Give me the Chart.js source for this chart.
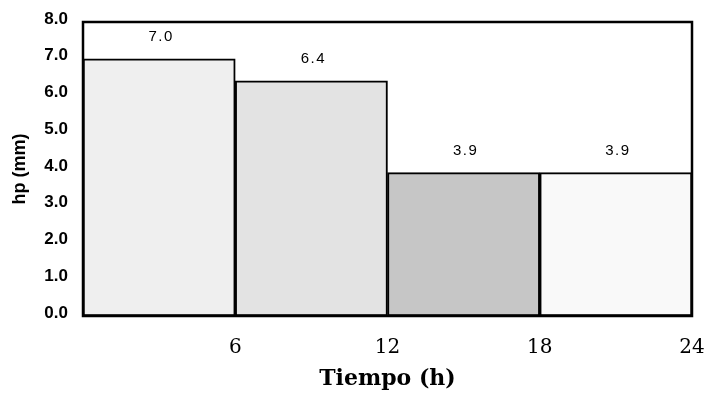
<!DOCTYPE html>
<html>
<head>
<meta charset="utf-8">
<script src="https://cdn.jsdelivr.net/npm/chart.js@4/dist/chart.umd.min.js"></script>
<style>
  html, body { margin: 0; padding: 0; background: #fff; }
  #wrap { width: 708px; height: 409px; }
</style>
</head>
<body>
<div id="wrap"><canvas id="myChart" width="708" height="409"></canvas></div>
<script>
// data
var hourMid = [3, 9, 15, 21];          // centre of each 6 h block
var hp = [7.0, 6.4, 3.9, 3.9];          // mm per block
var barFills = ["#efefef", "#e3e3e3", "#c6c6c6", "#f9f9f9"];
var xTicks = [6, 12, 18, 24];

// frame around the plot + numbers over the bars
var boxAndLabels = {
  id: 'boxAndLabels',
  afterDatasetsDraw: function(chart) {
    var ctx = chart.ctx;
    var a = chart.chartArea;
    ctx.save();
    ctx.strokeStyle = '#000';
    ctx.lineWidth = 2.5;
    ctx.strokeRect(a.left, a.top, a.right - a.left, a.bottom - a.top);

    ctx.fillStyle = '#000';
    ctx.font = '15px "Liberation Sans", Arial, sans-serif';
    ctx.letterSpacing = '1.5px';
    ctx.textAlign = 'center';
    ctx.textBaseline = 'middle';
    chart.getDatasetMeta(0).data.forEach(function(bar, i) {
      ctx.fillText(hp[i].toFixed(1), bar.x + 2, bar.y - 22);
    });
    ctx.restore();
  }
};

// keep the plot box where the layout padding puts it
function noEdgePadding(scale) {
  scale.paddingLeft = 0;
  scale.paddingRight = 0;
  scale.paddingTop = 0;
  scale.paddingBottom = 0;
}

new Chart("myChart", {
  type: "bar",
  data: {
    datasets: [{
      data: hourMid.map(function(h, i) { return { x: h, y: hp[i] }; }),
      backgroundColor: barFills,
      borderColor: '#000',
      borderWidth: 2,
      borderSkipped: false,
      barPercentage: 1,
      categoryPercentage: 1
    }]
  },
  options: {
    responsive: false,
    animation: false,
    layout: { padding: { top: 22, right: 16, left: 0, bottom: 0 } },
    plugins: {
      legend: { display: false },
      tooltip: { enabled: false }
    },
    scales: {
      x: {
        type: 'linear',
        offset: false,
        min: 0,
        max: 24,
        grid: { display: false },
        border: { display: false },
        afterBuildTicks: function(scale) {
          scale.ticks = xTicks.map(function(v) { return { value: v }; });
        },
        ticks: {
          padding: 12,
          color: '#000',
          font: { family: '"DejaVu Serif", serif', size: 20 },
          maxRotation: 0
        },
        title: {
          display: true,
          text: 'Tiempo (h)',
          color: '#000',
          font: { family: '"DejaVu Serif", serif', size: 22, weight: 'bold' },
          padding: { top: 0, bottom: 17 }
        },
        afterFit: function(scale) { scale.height = 93; noEdgePadding(scale); }
      },
      y: {
        min: 0,
        max: 8,
        grid: { display: false },
        border: { display: false },
        ticks: {
          stepSize: 1,
          padding: 7,
          labelOffset: -3,
          color: '#000',
          font: { family: '"Liberation Sans", Arial, sans-serif', size: 17, weight: 'bold' },
          callback: function(v) { return v.toFixed(1); }
        },
        title: {
          display: true,
          text: 'hp (mm)',
          color: '#000',
          font: { family: '"Liberation Sans", Arial, sans-serif', size: 18, weight: 'bold' },
          padding: { top: 9, bottom: 9 }
        },
        afterFit: function(scale) { scale.width = 83; noEdgePadding(scale); }
      }
    }
  },
  plugins: [boxAndLabels]
});
</script>
</body>
</html>
